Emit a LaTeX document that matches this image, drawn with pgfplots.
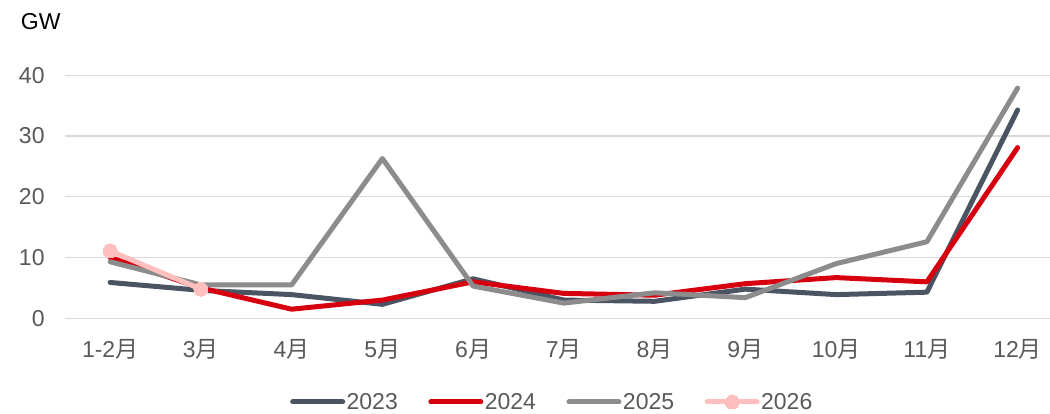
\documentclass[border=0pt]{standalone}
\usepackage{fontspec}
\setmainfont{Liberation Sans}
\newfontfamily\cjk{Noto Sans CJK SC}
\usepackage{pgfplots}
\pgfplotsset{compat=1.18}
\definecolor{c23}{HTML}{4A5462}
\definecolor{c24}{HTML}{D7000F}
\definecolor{c25}{HTML}{8C8C8C}
\definecolor{c26}{HTML}{FFBFBF}
\definecolor{gridc}{HTML}{D9D9D9}
\definecolor{tickc}{HTML}{595959}
\begin{document}
\begin{tikzpicture}
\begin{axis}[
  at={(0pt,0pt)}, anchor=south west,
  scale only axis, width=998.25pt, height=243pt,
  xmin=-0.5, xmax=10.5, ymin=0, ymax=40,
  xtick={0,1,2,3,4,5,6,7,8,9,10},
  xticklabels={1-2{\cjk 月},3{\cjk 月},4{\cjk 月},5{\cjk 月},6{\cjk 月},7{\cjk 月},8{\cjk 月},9{\cjk 月},10{\cjk 月},11{\cjk 月},12{\cjk 月}},
  ytick={0,10,20,30,40}, yticklabels={0,10,20,30,40},
  axis line style={draw=none},
  major tick length=0pt,
  ymajorgrids, grid style={color=gridc, line width=1.3pt},
  clip=false,
  tick label style={font=\fontsize{23}{27}\selectfont, text=tickc},
  yticklabel style={anchor=east, inner sep=0pt, xshift=-20pt},
  xticklabel style={anchor=base, inner sep=0pt, yshift=-39pt},
  legend image code/.code={\draw[mark repeat=2,mark phase=2,#1] plot coordinates {(0pt,0pt) (25pt,0pt) (50pt,0pt)};},
  legend style={at={(0.2256,-0.3444)}, anchor=west, draw=none, fill=none,
    legend columns=4, inner sep=0pt,
    nodes={inner sep=1.5pt, text=tickc, font=\fontsize{23}{27}\selectfont},
    /tikz/every even column/.append style={column sep=29pt}},
  legend cell align=left,
]
\addplot[c23, line width=5pt, line cap=round, line join=round] coordinates {
(0,5.9) (1,4.6) (2,3.9) (3,2.3) (4,6.5) (5,3.0) (6,2.8) (7,4.8) (8,3.9) (9,4.3) (10,34.3)};
\addlegendentry{2023}
\addplot[c24, line width=5pt, line cap=round, line join=round] coordinates {
(0,10.0) (1,5.0) (2,1.5) (3,3.0) (4,6.0) (5,4.1) (6,3.8) (7,5.7) (8,6.7) (9,6.0) (10,28.1)};
\addlegendentry{2024}
\addplot[c25, line width=5pt, line cap=round, line join=round] coordinates {
(0,9.3) (1,5.5) (2,5.5) (3,26.3) (4,5.3) (5,2.5) (6,4.2) (7,3.4) (8,9.0) (9,12.6) (10,37.9)};
\addlegendentry{2025}
\addplot[c26, line width=5pt, line cap=round, line join=round, mark=*, mark size=7pt,
  mark options={fill=c26, draw=c26, line width=0pt}] coordinates {(0,11.1) (1,4.8)};
\addlegendentry{2026}
\end{axis}
\node[anchor=base west, font=\fontsize{23}{27}\selectfont, text=black, inner sep=0pt] at (-44pt,288.3pt) {GW};
\pgfresetboundingbox
\useasboundingbox (-64.75pt,-94.7pt) rectangle (985.25pt,318.3pt);
\end{tikzpicture}
\end{document}
